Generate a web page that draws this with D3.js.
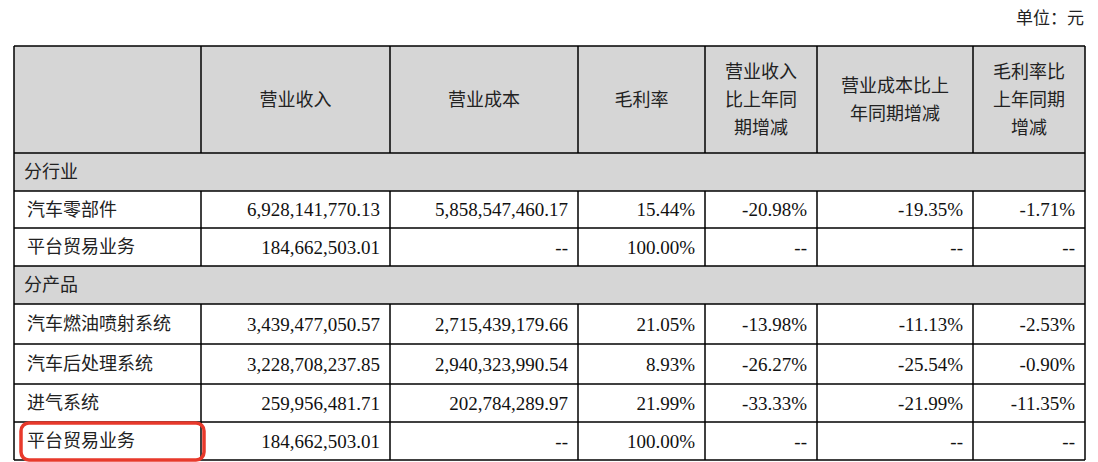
<!DOCTYPE html><html><head><meta charset="utf-8"><script src="https://cdn.jsdelivr.net/npm/d3@7"></script>
<style>body{margin:0;background:#fff}</style></head><body><svg id="c" width="1098" height="462"></svg>
<script>
const headers=["","营业收入","营业成本","毛利率","营业收入\n比上年同\n期增减","营业成本比上\n年同期增减","毛利率比\n上年同期\n增减"];
const sections=["分行业","分产品"];
const rows=[
 {sec:0,name:"汽车零部件",v:["6,928,141,770.13","5,858,547,460.17","15.44%","-20.98%","-19.35%","-1.71%"]},
 {sec:0,name:"平台贸易业务",v:["184,662,503.01","--","100.00%","--","--","--"]},
 {sec:1,name:"汽车燃油喷射系统",v:["3,439,477,050.57","2,715,439,179.66","21.05%","-13.98%","-11.13%","-2.53%"]},
 {sec:1,name:"汽车后处理系统",v:["3,228,708,237.85","2,940,323,990.54","8.93%","-26.27%","-25.54%","-0.90%"]},
 {sec:1,name:"进气系统",v:["259,956,481.71","202,784,289.97","21.99%","-33.33%","-21.99%","-11.35%"]},
 {sec:1,name:"平台贸易业务",v:["184,662,503.01","--","100.00%","--","--","--"]}
];
const colX=[14,201,390,578,705,817,973,1085];
const rowY=[46,153,191,228,266,304,344,384,422,460];
const svg=d3.select("#c");
const cn="'Noto Sans CJK SC',sans-serif", num="'Liberation Serif',serif";
svg.append("text").attr("x",1084).attr("y",24).attr("text-anchor","end").attr("font-family",cn).attr("font-size",17).attr("fill","#222").text("单位：元");
const lay=[{t:"h"},{t:"s",i:0},{t:"r",i:0},{t:"r",i:1},{t:"s",i:1},{t:"r",i:2},{t:"r",i:3},{t:"r",i:4},{t:"r",i:5}];
lay.forEach((L,k)=>{
 const y0=rowY[k],y1=rowY[k+1],h=y1-y0;
 if(L.t!=="r") svg.append("rect").attr("x",colX[0]).attr("y",y0).attr("width",colX[7]-colX[0]).attr("height",h).attr("fill","#d6d6d6");
 if(L.t==="h"){
  headers.forEach((hd,c)=>{
   const lines=hd.split("\n"),cx=(colX[c]+colX[c+1])/2,cy=(y0+y1)/2;
   lines.forEach((ln,j)=>svg.append("text").attr("x",cx).attr("y",cy+(j-(lines.length-1)/2)*28).attr("dy","0.35em").attr("text-anchor","middle").attr("font-family",cn).attr("font-size",18).attr("fill","#222").text(ln));
  });
 } else if(L.t==="s"){
  svg.append("text").attr("x",24).attr("y",(y0+y1)/2).attr("dy","0.35em").attr("font-family",cn).attr("font-size",18).attr("fill","#222").text(sections[L.i]);
 } else {
  const r=rows[L.i];
  svg.append("text").attr("x",27).attr("y",(y0+y1)/2).attr("dy","0.35em").attr("font-family",cn).attr("font-size",18).attr("fill","#222").text(r.name);
  r.v.forEach((v,c)=>svg.append("text").attr("x",colX[c+2]-10).attr("y",(y0+y1)/2).attr("dy","0.35em").attr("text-anchor","end").attr("font-family",num).attr("font-size",19).attr("fill","#111").text(v));
 }
});
rowY.forEach(y=>svg.append("line").attr("x1",colX[0]).attr("x2",colX[7]).attr("y1",y).attr("y2",y).attr("stroke","#000").attr("stroke-width",1.5));
lay.forEach((L,k)=>{
 const xs=L.t==="s"?[colX[0],colX[7]]:colX;
 xs.forEach(x=>svg.append("line").attr("x1",x).attr("x2",x).attr("y1",rowY[k]).attr("y2",rowY[k+1]).attr("stroke","#000").attr("stroke-width",1.5));
});
svg.append("rect").attr("x",21).attr("y",423).attr("width",183).attr("height",37).attr("rx",8).attr("fill","none").attr("stroke","#e8392b").attr("stroke-width",3.5);
</script></body></html>
